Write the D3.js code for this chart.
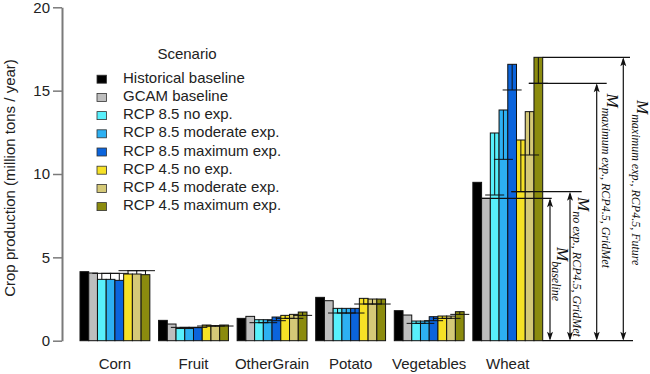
<!DOCTYPE html>
<html>
<head>
<meta charset="utf-8">
<script src="https://cdn.jsdelivr.net/npm/d3@7"></script>
<style>
  body { margin: 0; background: #fff; }
  svg { display: block; }
  .tick text { font-family: "Liberation Sans", Arial, sans-serif; }
</style>
</head>
<body>
<svg width="650" height="374"></svg>
<script>
const crops = ["Corn", "Fruit", "OtherGrain", "Potato", "Vegetables", "Wheat"];
const scenarios = ["Historical baseline", "GCAM baseline", "RCP 8.5 no exp.", "RCP 8.5 moderate exp.",
    "RCP 8.5 maximum exp.", "RCP 4.5 no exp.", "RCP 4.5 moderate exp.", "RCP 4.5 maximum exp."];
const colors = ["#000000", "#bebebe", "#58f0fc", "#2db0f2", "#0b64dc", "#f6e126", "#d5c977", "#8b8b0e"];

// production per crop, one value per scenario
const corn = [4.14, 4.06, 3.68, 3.68, 3.62, 4.0, 4.0, 3.96];
const fruit = [1.22, 1.0, 0.73, 0.73, 0.78, 0.94, 0.9, 0.94];
const otherGrain = [1.34, 1.46, 1.26, 1.26, 1.42, 1.52, 1.58, 1.72];
const potato = [2.6, 2.4, 1.94, 1.94, 1.94, 2.54, 2.5, 2.5];
const vegetables = [1.8, 1.54, 1.18, 1.18, 1.44, 1.48, 1.48, 1.74];
const wheat = [9.5, 8.54, 12.46, 13.84, 16.58, 12.04, 13.74, 17.0];

// GridMet values for the six RCP scenarios (the whisker ends)
const cornGrid = [4.04, 4.04, 4.04, 4.2, 4.2, 4.2];
const fruitGrid = [0.8, 0.8, 0.8, 0.88, 0.88, 0.88];
const otherGrainGrid = [1.08, 1.08, 1.2, 1.34, 1.34, 1.52];
const potatoGrid = [1.66, 1.66, 1.66, 2.2, 2.2, 2.2];
const vegetablesGrid = [1.04, 1.04, 1.2, 1.34, 1.34, 1.58];
const wheatGrid = [8.74, 10.88, 15.04, 8.94, 11.14, 15.44];

const yTicks = [0, 5, 10, 15, 20];

const values = [corn, fruit, otherGrain, potato, vegetables, wheat];
const grids = [cornGrid, fruitGrid, otherGrainGrid, potatoGrid, vegetablesGrid, wheatGrid];

const bars = [], whiskers = [];
crops.forEach((c, i) => {
    scenarios.forEach((s, j) => {
        bars.push({ crop: c, scenario: s, value: values[i][j], color: colors[j] });
        if (j >= 2) whiskers.push({ crop: c, scenario: s, value: values[i][j], grid: grids[i][j - 2] });
    });
});

const svg = d3.select("svg");
const sans = "'Liberation Sans', Arial, sans-serif";

const y = d3.scaleLinear().domain([0, 20]).range([340.7, 7.3]);
const x0 = d3.scaleBand().domain(crops).range([80, 542.7]).paddingInner(1 / 9).paddingOuter(0);
const x1 = d3.scaleBand().domain(scenarios).range([0, x0.bandwidth()]);
const barX = d => x0(d.crop) + x1(d.scenario);
const barMid = d => barX(d) + x1.bandwidth() / 2;

// y axis
const yAxis = svg.append("g")
    .attr("transform", "translate(62,0)")
    .call(d3.axisLeft(y).tickValues(yTicks).tickSize(9).tickSizeOuter(0).tickPadding(3));
yAxis.select(".domain").attr("stroke", "#7a7a7a").attr("stroke-width", 2);
yAxis.selectAll(".tick line").attr("stroke", "#7a7a7a").attr("stroke-width", 1.5);
yAxis.selectAll(".tick text").attr("font-size", 15).attr("fill", "#222");

svg.append("text")
    .attr("transform", `translate(15,${(y(0) + y(20)) / 2 + 4}) rotate(-90)`)
    .attr("text-anchor", "middle")
    .attr("font-family", sans).attr("font-size", 15).attr("fill", "#222")
    .text("Crop production (million tons / year)");

// bars
svg.append("g").selectAll("rect")
    .data(bars)
    .join("rect")
    .attr("x", barX)
    .attr("y", d => y(d.value))
    .attr("width", x1.bandwidth())
    .attr("height", d => y(0) - y(d.value))
    .attr("fill", d => d.color)
    .attr("stroke", "#111")
    .attr("stroke-width", 1);

// whiskers
const wg = svg.append("g").attr("stroke", "#111").attr("stroke-width", 1);
wg.selectAll(".stem")
    .data(whiskers)
    .join("line")
    .attr("class", "stem")
    .attr("x1", barMid).attr("x2", barMid)
    .attr("y1", d => y(d.value)).attr("y2", d => y(d.grid));
wg.selectAll(".cap")
    .data(whiskers)
    .join("line")
    .attr("class", "cap")
    .attr("x1", d => barMid(d) - 9.5).attr("x2", d => barMid(d) + 9.5)
    .attr("y1", d => y(d.grid)).attr("y2", d => y(d.grid));

// crop labels
svg.append("g").selectAll("text")
    .data(crops)
    .join("text")
    .attr("x", d => x0(d) + x0.bandwidth() / 2)
    .attr("y", 369)
    .attr("text-anchor", "middle")
    .attr("font-family", sans).attr("font-size", 15).attr("fill", "#222")
    .text(d => d);

// legend
const legend = svg.append("g");
legend.append("text")
    .attr("x", 187).attr("y", 58.5)
    .attr("text-anchor", "middle")
    .attr("font-family", sans).attr("font-size", 15).attr("fill", "#222")
    .text("Scenario");
const items = legend.selectAll(".item")
    .data(scenarios)
    .join("g")
    .attr("class", "item")
    .attr("transform", (d, i) => `translate(0,${82.7 + i * 18.2})`);
items.append("rect")
    .attr("x", 97).attr("y", -7.5).attr("width", 9.5).attr("height", 8)
    .attr("fill", (d, i) => colors[i])
    .attr("stroke", "#333").attr("stroke-width", 0.8);
items.append("text")
    .attr("x", 123).attr("y", 0)
    .attr("font-family", sans).attr("font-size", 15).attr("fill", "#222")
    .text(d => d);

// annotations on wheat
const wheatBar = s => ({ crop: "Wheat", scenario: s });
const annotations = [
    { value: wheat[1], from: barX(wheatBar(scenarios[1])), to: 551.7, ax: 550, lx: 556.7, ly: 247, sub: "baseline" },
    { value: wheatGrid[3], from: barMid(wheatBar(scenarios[5])) - 9.5, to: 581.7, ax: 570, lx: 578.3, ly: 197, sub: "no exp., RCP4.5, GridMet" },
    { value: wheatGrid[5], from: barMid(wheatBar(scenarios[7])) - 9.5, to: 606.7, ax: 596.7, lx: 606.7, ly: 93.5, sub: "maximum exp., RCP4.5, GridMet" },
    { value: wheat[7], from: barX(wheatBar(scenarios[7])) + x1.bandwidth(), to: 630, ax: 623.3, lx: 636.5, ly: 100, sub: "maximum exp., RCP4.5, Future" }
];

const ag = svg.append("g");
ag.append("line")
    .attr("x1", barX(wheatBar(scenarios[7])) + x1.bandwidth()).attr("x2", 633)
    .attr("y1", y(0)).attr("y2", y(0))
    .attr("stroke", "#111").attr("stroke-width", 1.2);
ag.selectAll(".ref")
    .data(annotations)
    .join("line")
    .attr("class", "ref")
    .attr("x1", d => d.from).attr("x2", d => d.to)
    .attr("y1", d => y(d.value)).attr("y2", d => y(d.value))
    .attr("stroke", "#111").attr("stroke-width", 1.2);
ag.selectAll(".shaft")
    .data(annotations)
    .join("line")
    .attr("class", "shaft")
    .attr("x1", d => d.ax).attr("x2", d => d.ax)
    .attr("y1", d => y(d.value) + 2).attr("y2", y(0) - 2)
    .attr("stroke", "#111").attr("stroke-width", 1.2);
ag.selectAll(".headTop")
    .data(annotations)
    .join("path")
    .attr("class", "headTop")
    .attr("d", d => { const t = y(d.value); return `M${d.ax},${t} L${d.ax - 3},${t + 9} L${d.ax},${t + 7} L${d.ax + 3},${t + 9} Z`; })
    .attr("fill", "#111");
ag.selectAll(".headBottom")
    .data(annotations)
    .join("path")
    .attr("class", "headBottom")
    .attr("d", d => { const b = y(0); return `M${d.ax},${b} L${d.ax - 3},${b - 9} L${d.ax},${b - 7} L${d.ax + 3},${b - 9} Z`; })
    .attr("fill", "#111");

const labels = ag.selectAll(".mlabel")
    .data(annotations)
    .join("text")
    .attr("class", "mlabel")
    .attr("transform", d => `translate(${d.lx},${d.ly}) rotate(90)`)
    .attr("font-family", "'Liberation Serif', 'DejaVu Serif', serif")
    .attr("font-style", "italic")
    .attr("fill", "#111");
labels.append("tspan").attr("font-size", 17).text("M");
labels.append("tspan").attr("font-size", 12).attr("dy", 5).text(d => d.sub);
</script>
</body>
</html>
